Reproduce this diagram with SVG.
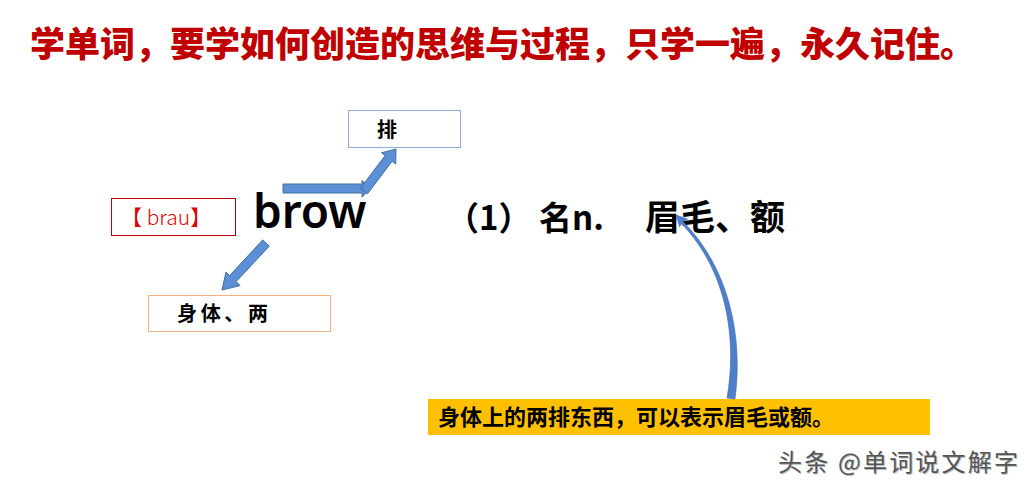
<svg xmlns="http://www.w3.org/2000/svg" width="1033" height="487" viewBox="0 0 1033 487">
<defs>
<style>
.cjk{font-family:"Noto Sans CJK SC","Noto Sans",sans-serif;}
.title{font-size:35px;font-weight:900;fill:#C00000;}
.lbl{font-size:20px;font-weight:700;fill:#000;}
.blk{fill:#5B8FD6;stroke:#41719C;stroke-width:1;}
</style>
</defs>
<rect width="1033" height="487" fill="#fff"/>
<g id="title"><text class="cjk title" x="30" y="57" textLength="945" lengthAdjust="spacingAndGlyphs">学单词，要学如何创造的思维与过程，只学一遍，永久记住。</text></g>
<g id="node-pai">
<rect x="348.5" y="110.5" width="112" height="37" fill="#fff" stroke="#8FAADC" stroke-width="1"/>
<text class="cjk lbl" x="377" y="137">排</text>
</g>
<g id="node-phon">
<rect x="111.5" y="198.5" width="124" height="37" fill="#fff" stroke="#C00000" stroke-width="1"/>
<text x="121" y="225" font-family="'Noto Sans CJK SC','Noto Sans',sans-serif" font-size="21" font-weight="300" fill="#E00000">【 brau】</text>
</g>
<g id="node-brow"><text x="253" y="228" font-family="'Noto Sans','Open Sans',sans-serif" font-size="46" font-weight="600" fill="#000">brow</text></g>
<g id="node-shenti">
<rect x="148.5" y="295.5" width="182" height="36" fill="#fff" stroke="#F4B183" stroke-width="1"/>
<text class="cjk lbl" x="177" y="321" textLength="91">身体、两</text>
</g>
<g id="node-meaning">
<text class="cjk" x="446" y="230" font-size="33" font-weight="700" fill="#000">（1）</text>
<text class="cjk" x="539" y="230" font-size="33" font-weight="700" fill="#000">名n.</text>
<text class="cjk" x="645" y="230" font-size="35" font-weight="700" fill="#000">眉毛、额</text>
</g>
<g id="node-explain">
<rect x="428" y="399" width="502" height="36" fill="#FFC000"/>
<text class="cjk" x="438" y="425" font-size="22" font-weight="700" fill="#000">身体上的两排东西，可以表示眉毛或额。</text>
</g>
<g id="connectors">
<polygon class="blk" points="283,184 362,184 362,180.5 371,188.5 362,197 362,193 283,193"/>
<polygon class="blk" points="367.5,193.8 392.1,161.2 395.7,164 396,149 381.5,152.8 385.1,155.6 360.5,188.2"/>
<polygon class="blk" points="269.3,246.1 236.2,281.6 240,285.6 222,290 226,272 229.6,275.6 262.7,239.9"/>
<path d="M727,398 C737,341 728,272 681.5,223.5 L679.6,226.7 L676,215 L687.6,219.1 L683,221.5 C731,270 743,340 735,399 Z" fill="#4F7FCB" stroke="#3E6BB0" stroke-width="0.6" stroke-linejoin="round"/>
</g>
<g id="watermark">
<text class="cjk" x="779" y="472" font-size="24" fill="#bbb" textLength="240">头条 @单词说文解字</text>
<text class="cjk" x="778" y="471" font-size="24" fill="#555" textLength="240">头条 @单词说文解字</text>
</g>
</svg>
